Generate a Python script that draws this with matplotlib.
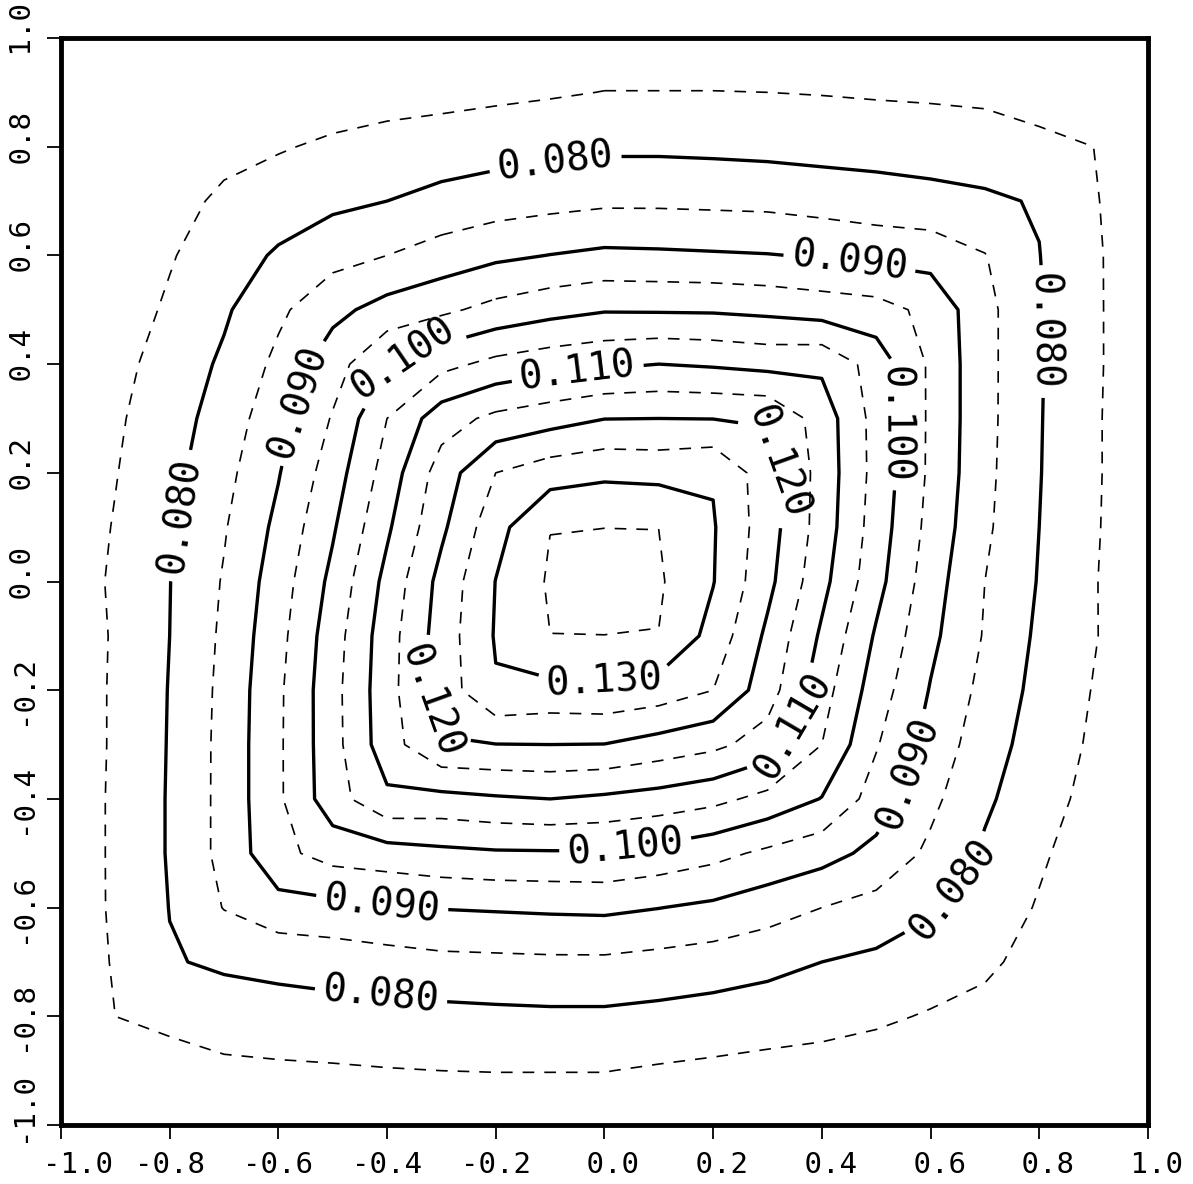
import numpy as np
import matplotlib
matplotlib.use("Agg")
import matplotlib.pyplot as plt
from matplotlib.transforms import ScaledTranslation

plt.rcParams["font.family"] = ["DejaVu Sans Mono", "DejaVu Sans"]
plt.rcParams["axes.unicode_minus"] = False

# grid nodes (field rows run from y = 1.0 at the top to y = -1.0 at the bottom)
x_nodes = [-1.0, -0.9, -0.8, -0.7, -0.6, -0.5, -0.4, -0.3, -0.2, -0.1, 0.0,
           0.1, 0.2, 0.3, 0.4, 0.5, 0.6, 0.7, 0.8, 0.9, 1.0]
y_nodes = [1.0, 0.9, 0.8, 0.7, 0.6, 0.5, 0.4, 0.3, 0.2, 0.1, 0.0,
           -0.1, -0.2, -0.3, -0.4, -0.5, -0.6, -0.7, -0.8, -0.9, -1.0]

field = [
    [0.0637, 0.0656, 0.0669, 0.0681, 0.0692, 0.0700, 0.0705, 0.0708, 0.0712, 0.0716, 0.0718, 0.0718, 0.0718, 0.0717, 0.0716, 0.0714, 0.0711, 0.0707, 0.0700, 0.0693, 0.0684],
    [0.0648, 0.0674, 0.0693, 0.0705, 0.0717, 0.0725, 0.0732, 0.0735, 0.0740, 0.0745, 0.0751, 0.0751, 0.0751, 0.0750, 0.0748, 0.0745, 0.0742, 0.0737, 0.0728, 0.0715, 0.0700],
    [0.0660, 0.0691, 0.0716, 0.0734, 0.0746, 0.0758, 0.0766, 0.0773, 0.0780, 0.0786, 0.0791, 0.0791, 0.0789, 0.0786, 0.0783, 0.0781, 0.0781, 0.0780, 0.0763, 0.0750, 0.0716],
    [0.0677, 0.0702, 0.0731, 0.0760, 0.0775, 0.0789, 0.0800, 0.0815, 0.0826, 0.0834, 0.0841, 0.0841, 0.0839, 0.0837, 0.0829, 0.0822, 0.0813, 0.0806, 0.0797, 0.0754, 0.0718],
    [0.0686, 0.0714, 0.0746, 0.0777, 0.0806, 0.0833, 0.0850, 0.0871, 0.0890, 0.0901, 0.0910, 0.0908, 0.0905, 0.0902, 0.0896, 0.0885, 0.0882, 0.0852, 0.0801, 0.0757, 0.0718],
    [0.0693, 0.0725, 0.0757, 0.0793, 0.0840, 0.0886, 0.0919, 0.0940, 0.0965, 0.0983, 0.0996, 0.0995, 0.0994, 0.0988, 0.0978, 0.0970, 0.0936, 0.0865, 0.0804, 0.0757, 0.0719],
    [0.0702, 0.0735, 0.0770, 0.0808, 0.0862, 0.0928, 0.0998, 0.1035, 0.1064, 0.1080, 0.1091, 0.1100, 0.1094, 0.1085, 0.1090, 0.1029, 0.0942, 0.0865, 0.0804, 0.0757, 0.0719],
    [0.0710, 0.0743, 0.0778, 0.0822, 0.0882, 0.0954, 0.1050, 0.1128, 0.1162, 0.1180, 0.1199, 0.1200, 0.1199, 0.1196, 0.1128, 0.1032, 0.0942, 0.0865, 0.0803, 0.0756, 0.0718],
    [0.0714, 0.0748, 0.0785, 0.0835, 0.0897, 0.0975, 0.1071, 0.1173, 0.1250, 0.1278, 0.1290, 0.1286, 0.1296, 0.1222, 0.1131, 0.1033, 0.0941, 0.0863, 0.0802, 0.0756, 0.0718],
    [0.0718, 0.0753, 0.0791, 0.0846, 0.0912, 0.0994, 0.1092, 0.1190, 0.1283, 0.1349, 0.13495, 0.13497, 0.1304, 0.1223, 0.1128, 0.1027, 0.0934, 0.0859, 0.0800, 0.0755, 0.0717],
    [0.0721, 0.0757, 0.0799, 0.0854, 0.0925, 0.1013, 0.1115, 0.1216, 0.1301, 0.1356, 0.1375, 0.1356, 0.1302, 0.1214, 0.1115, 0.1017, 0.0923, 0.0850, 0.0797, 0.0753, 0.0716],
    [0.0717, 0.0755, 0.0800, 0.0859, 0.0934, 0.1027, 0.1128, 0.1223, 0.1304, 0.13497, 0.13495, 0.1349, 0.1283, 0.1190, 0.1092, 0.0994, 0.0912, 0.0846, 0.0791, 0.0753, 0.0718],
    [0.0718, 0.0756, 0.0802, 0.0863, 0.0941, 0.1033, 0.1131, 0.1222, 0.1296, 0.1286, 0.1290, 0.1278, 0.1250, 0.1173, 0.1071, 0.0975, 0.0897, 0.0835, 0.0785, 0.0748, 0.0714],
    [0.0718, 0.0756, 0.0803, 0.0865, 0.0942, 0.1032, 0.1128, 0.1196, 0.1199, 0.1200, 0.1199, 0.1180, 0.1162, 0.1128, 0.1050, 0.0954, 0.0882, 0.0822, 0.0778, 0.0743, 0.0710],
    [0.0719, 0.0757, 0.0804, 0.0865, 0.0942, 0.1029, 0.1090, 0.1085, 0.1094, 0.1100, 0.1091, 0.1080, 0.1064, 0.1035, 0.0998, 0.0928, 0.0862, 0.0808, 0.0770, 0.0735, 0.0702],
    [0.0719, 0.0757, 0.0804, 0.0865, 0.0936, 0.0970, 0.0978, 0.0988, 0.0994, 0.0995, 0.0996, 0.0983, 0.0965, 0.0940, 0.0919, 0.0886, 0.0840, 0.0793, 0.0757, 0.0725, 0.0693],
    [0.0718, 0.0757, 0.0801, 0.0852, 0.0882, 0.0885, 0.0896, 0.0902, 0.0905, 0.0908, 0.0910, 0.0901, 0.0890, 0.0871, 0.0850, 0.0833, 0.0806, 0.0777, 0.0746, 0.0714, 0.0686],
    [0.0718, 0.0754, 0.0797, 0.0806, 0.0813, 0.0822, 0.0829, 0.0837, 0.0839, 0.0841, 0.0841, 0.0834, 0.0826, 0.0815, 0.0800, 0.0789, 0.0775, 0.0760, 0.0731, 0.0702, 0.0677],
    [0.0716, 0.0750, 0.0763, 0.0780, 0.0781, 0.0781, 0.0783, 0.0786, 0.0789, 0.0791, 0.0791, 0.0786, 0.0780, 0.0773, 0.0766, 0.0758, 0.0746, 0.0734, 0.0716, 0.0691, 0.0660],
    [0.0700, 0.0715, 0.0728, 0.0737, 0.0742, 0.0745, 0.0748, 0.0750, 0.0751, 0.0751, 0.0751, 0.0745, 0.0740, 0.0735, 0.0732, 0.0725, 0.0717, 0.0705, 0.0693, 0.0674, 0.0648],
    [0.0684, 0.0693, 0.0700, 0.0707, 0.0711, 0.0714, 0.0716, 0.0717, 0.0718, 0.0718, 0.0718, 0.0716, 0.0712, 0.0708, 0.0705, 0.0700, 0.0692, 0.0681, 0.0669, 0.0656, 0.0637],
]

solid_levels = [0.080, 0.090, 0.100, 0.110, 0.120, 0.130]
dashed_levels = [0.075, 0.085, 0.095, 0.105, 0.115, 0.125, 0.135]
tick_values = [-1.0, -0.8, -0.6, -0.4, -0.2, 0.0, 0.2, 0.4, 0.6, 0.8, 1.0]
# plotter style: fixed width with a slot for the sign
tick_text = ["-1.0", "-0.8", "-0.6", "-0.4", "-0.2", " 0.0", " 0.2", " 0.4", " 0.6", " 0.8", " 1.0"]

# where the contour labels sit
label_spots = [(-0.09, 0.77), (0.83, 0.46), (-0.77, 0.12), (-0.41, -0.75), (0.60, -0.54),
               (-0.53, 0.32), (0.45, 0.58), (-0.41, -0.60), (0.55, -0.35),
               (-0.35, 0.36), (0.55, 0.29), (0.04, -0.50),
               (-0.05, 0.39), (0.33, -0.26),
               (0.32, 0.22), (-0.32, -0.22),
               (0.0, -0.18)]

Z = np.array(field)

fig = plt.figure(figsize=(11.93, 11.84), dpi=100)
ax = fig.add_axes([0.0511, 0.0498, 0.9111, 0.9181])

ax.contour(x_nodes, y_nodes, Z, levels=dashed_levels, colors="black",
           linewidths=1.2, linestyles=[(0, (7, 6))])
cs = ax.contour(x_nodes, y_nodes, Z, levels=solid_levels, colors="black",
                linewidths=2.4, linestyles="solid")
ax.clabel(cs, fmt="%.3f", fontsize=28, inline=True, inline_spacing=8,
          manual=label_spots)

ax.set_xlim(-1, 1)
ax.set_ylim(-1, 1)
ax.set_xticks(tick_values)
ax.set_yticks(tick_values)
ax.set_xticklabels(tick_text)
ax.set_yticklabels(tick_text)
ax.tick_params(direction="out", length=10, width=1.3, labelsize=21)
ax.tick_params(axis="x", pad=9)
ax.tick_params(axis="y", pad=7)
for lab in ax.get_yticklabels():
    lab.set_rotation(90)
    lab.set_va("center")

# the two corner labels are nudged inward so they do not collide
xl0 = ax.get_xticklabels()[0]
xl0.set_transform(xl0.get_transform() + ScaledTranslation(0.17, 0, fig.dpi_scale_trans))
yl0 = ax.get_yticklabels()[0]
yl0.set_transform(yl0.get_transform() + ScaledTranslation(0, 0.18, fig.dpi_scale_trans))

for side in ax.spines.values():
    side.set_linewidth(3.5)

fig.savefig("out.png", dpi=100)
